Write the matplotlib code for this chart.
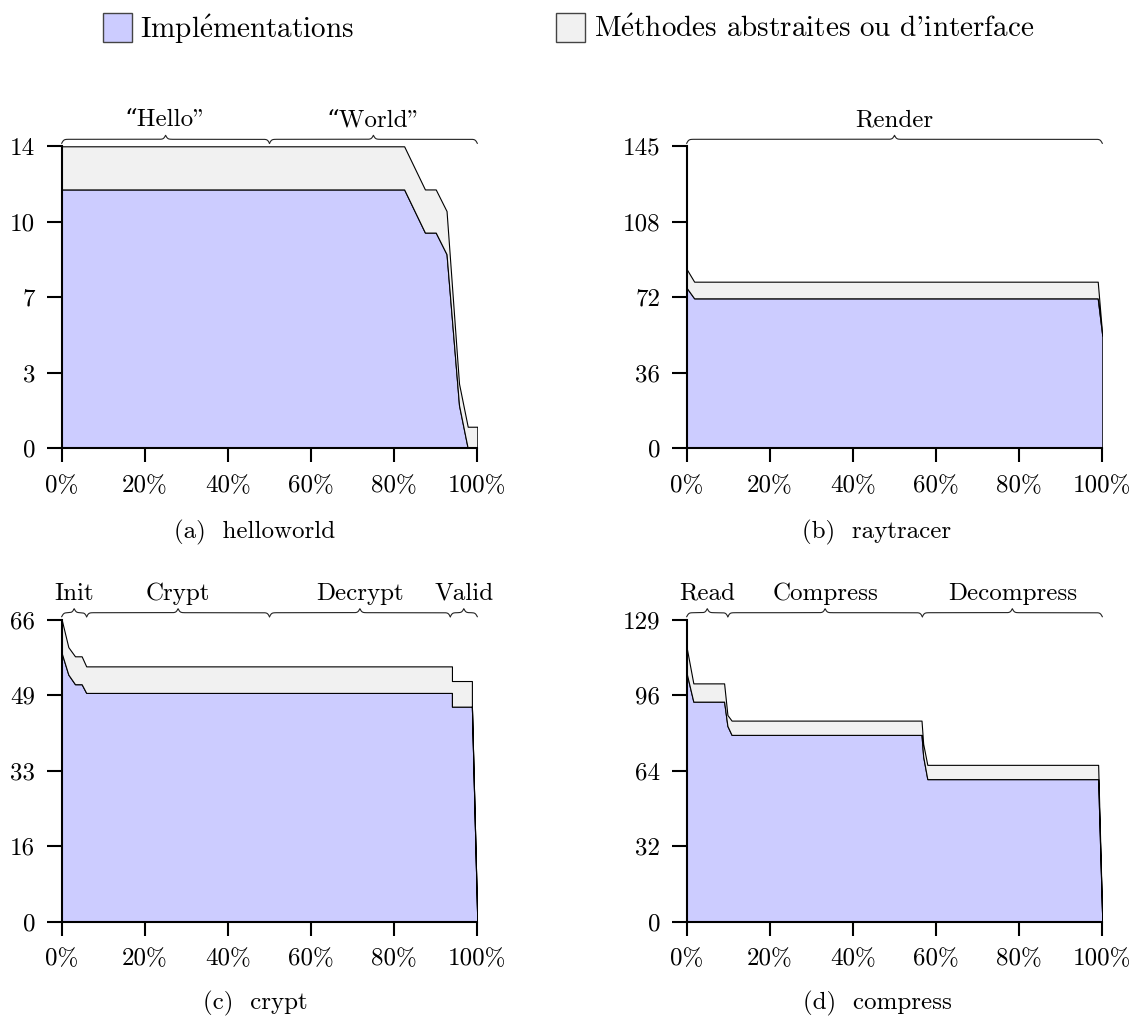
import numpy as np
import matplotlib.pyplot as plt
from matplotlib.patches import Rectangle

plt.rcParams['font.family'] = ['cmr10', 'DejaVu Serif']
plt.rcParams['mathtext.fontset'] = 'cm'
plt.rcParams['axes.formatter.use_mathtext'] = True

# x = progression de l'exécution (%), valeurs = nombre de méthodes
hello_x = [0, 82.4, 87.4, 90.0, 92.6, 95.6, 97.7, 100]
hello_impl = [12, 12, 10, 10, 9, 2, 0, 0]
hello_total = [14, 14, 12, 12, 11, 3, 1, 1]

ray_x = [0, 1.8, 98.9, 100]
ray_impl = [77, 72, 72, 54]
ray_total = [86, 80, 80, 54]

crypt_x = [0, 1.6, 3.2, 4.8, 5.9, 93.9, 93.9, 98.7, 98.7, 100]
crypt_impl = [58.7, 54, 51.9, 51.9, 50, 50, 47, 47, 47, 0]
crypt_total = [66, 60, 58, 58, 55.8, 55.8, 52.6, 52.6, 47, 0]

comp_x = [0, 1.6, 9.0, 9.8, 10.8, 56.5, 56.9, 57.9, 99.0, 100]
comp_impl = [106, 94, 94, 83.6, 79.8, 79.8, 70.6, 60.9, 60.9, 0]
comp_total = [117, 101.8, 101.8, 88.3, 85.9, 85.9, 76, 67, 67, 0]

y_max = [14, 145, 66, 129]
captions = ['(a)  helloworld', '(b)  raytracer', '(c)  crypt', '(d)  compress']

hello_phases = [0, 50, 100]
hello_names = ['\u201cHello"', '\u201cWorld"']
ray_phases = [0, 100]
ray_names = ['Render']
crypt_phases = [0, 6, 50, 93.5, 100]
crypt_names = ['Init', 'Crypt', 'Decrypt', 'Valid']
comp_phases = [0, 9.9, 56.7, 100]
comp_names = ['Read', 'Compress', 'Decompress']

x_ticks = [0, 20, 40, 60, 80, 100]

impl_color = '#ccccff'
abstract_color = '#f1f1f1'

W, H = 1135, 1021


def brace(ax, x0, x1, y, amp, beta=4.0):
    xs = np.linspace(x0, x1, 801)
    half = xs[:401]
    yh = 1 / (1 + np.exp(-beta * (half - half[0]))) + 1 / (1 + np.exp(-beta * (half - half[-1])))
    ys = np.concatenate((yh, yh[-2::-1]))
    ys = y + (ys - 1) * 2 * amp
    ax.plot(xs, ys, color='#222222', lw=0.8, transform=ax.get_xaxis_transform(), clip_on=False)


def draw(ax, x, impl, total, ymax, phases, names, caption, cx, cy):
    ax.fill_between(x, 0, impl, facecolor=impl_color, edgecolor='black', lw=0.8)
    ax.fill_between(x, impl, total, facecolor=abstract_color, edgecolor='black', lw=0.8)
    ax.set_xlim(0, 100)
    ax.set_ylim(0, ymax)
    yt = np.linspace(0, ymax, 5)
    ax.set_yticks(yt)
    ax.set_yticklabels([str(int(v)) for v in yt])
    ax.set_xticks(x_ticks)
    ax.set_xticklabels([f'{v}%' for v in x_ticks])
    for s in ['top', 'right']:
        ax.spines[s].set_visible(False)
    for s in ['left', 'bottom']:
        ax.spines[s].set_linewidth(1.5)
    ax.tick_params(axis='y', length=11, width=1.5, pad=8, labelsize=18)
    ax.tick_params(axis='x', length=10, width=1.5, pad=9, labelsize=18)
    hpx = ax.get_position().height * H
    for a, b, name in zip(phases[:-1], phases[1:], names):
        brace(ax, a, b, 1 + 7 / hpx, 4 / hpx)
        ax.text((a + b) / 2, 1 + 26 / hpx, name, transform=ax.get_xaxis_transform(),
                ha='center', va='center', fontsize=18)
    ax.figure.text(cx / W, 1 - cy / H, caption, ha='center', va='center', fontsize=18)


fig = plt.figure(figsize=(W / 100, H / 100), dpi=100)
left1, left2, wid = 61.7 / W, 686.7 / W, 415.6 / W
bot1, bot2, hei = 1 - 448.3 / H, 1 - 921.7 / H, 302 / H
ax_a = fig.add_axes([left1, bot1, wid, hei])
ax_b = fig.add_axes([left2, bot1, wid, hei])
ax_c = fig.add_axes([left1, bot2, wid, hei])
ax_d = fig.add_axes([left2, bot2, wid, hei])

draw(ax_a, hello_x, hello_impl, hello_total, y_max[0], hello_phases, hello_names, captions[0], 255, 532)
draw(ax_b, ray_x, ray_impl, ray_total, y_max[1], ray_phases, ray_names, captions[1], 877, 532)
draw(ax_c, crypt_x, crypt_impl, crypt_total, y_max[2], crypt_phases, crypt_names, captions[2], 255, 1003)
draw(ax_d, comp_x, comp_impl, comp_total, y_max[3], comp_phases, comp_names, captions[3], 877, 1003)

# légende
fig.add_artist(Rectangle((103 / W, 1 - 42 / H), 29 / W, 29 / H, transform=fig.transFigure,
                         facecolor=impl_color, edgecolor='#444444', lw=1))
fig.text(140 / W, 1 - 29 / H, 'Impl$\\mathrm{\\acute{e}}$mentations', fontsize=21, va='center')
fig.add_artist(Rectangle((556 / W, 1 - 42 / H), 29 / W, 29 / H, transform=fig.transFigure,
                         facecolor=abstract_color, edgecolor='#444444', lw=1))
fig.text(594 / W, 1 - 29 / H, "M$\\mathrm{\\acute{e}}$thodes abstraites ou d'interface",
         fontsize=21, va='center')

fig.savefig('out.png', dpi=100)
